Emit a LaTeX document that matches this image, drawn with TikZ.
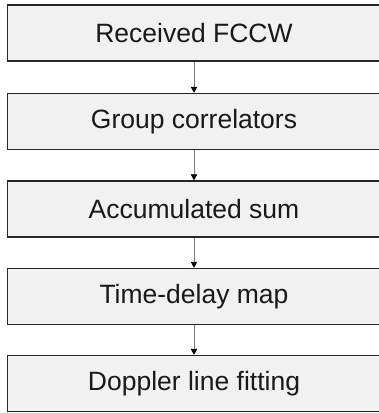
\documentclass[tikz,border=0pt]{standalone}
\usepackage{fontspec}
\setmainfont{Liberation Sans}
\usetikzlibrary{arrows.meta}
\definecolor{boxfill}{HTML}{F1F1F1}
\definecolor{boxline}{HTML}{262626}
\definecolor{arrline}{HTML}{7A7A7A}
\begin{document}
\begin{tikzpicture}[x=1pt,y=-1pt,
  stepbox/.style={draw=boxline, line width=1.5pt, fill=boxfill, minimum width=373pt, minimum height=56pt, inner sep=0pt, font=\fontsize{26.5}{30}\selectfont, text=black!90},
  flow/.style={draw=arrline, line width=0.8pt, -{Triangle[length=6pt,width=6.5pt,fill=black,color=black]}}]
\useasboundingbox (0,0) rectangle (379,413);
\node[stepbox] (a) at (194,33) {Received FCCW};
\node[stepbox] (b) at (194,121.5) {Group correlators};
\node[stepbox] (c) at (194,209) {Accumulated sum};
\node[stepbox] (d) at (194,296.5) {Time-delay map};
\node[stepbox] (e) at (194,383.5) {Doppler line fitting};
\draw[flow] (a.south) -- (b.north);
\draw[flow] (b.south) -- (c.north);
\draw[flow] (c.south) -- (d.north);
\draw[flow] (d.south) -- (e.north);
\end{tikzpicture}
\end{document}
